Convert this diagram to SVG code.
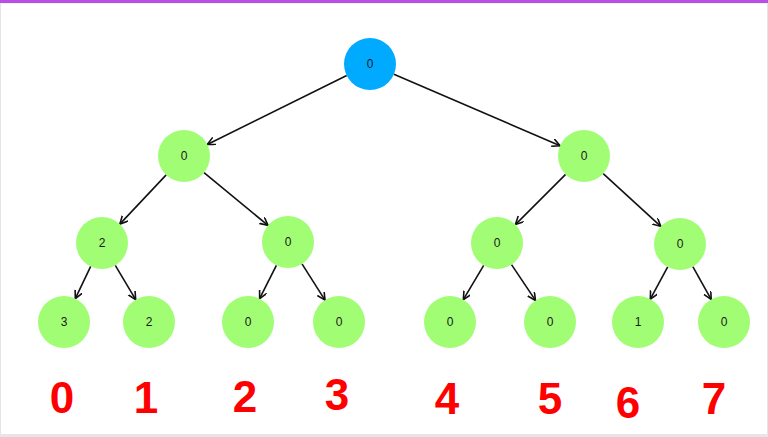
<svg xmlns="http://www.w3.org/2000/svg" width="768" height="437" viewBox="0 0 768 437">
<style>
.n circle{fill:#a1fd74}
.root circle{fill:#00aaff}
.n text{font-family:"Liberation Sans",Arial,sans-serif;font-size:12px;fill:#1a1a1a;text-anchor:middle;dominant-baseline:central}
.e line{stroke:#111;stroke-width:1.6;marker-end:url(#arr)}
.hand{font-family:"Liberation Sans",Arial,sans-serif;font-weight:bold;font-size:44px;fill:#ff0000;text-anchor:middle}
</style>
<defs>
<marker id="arr" markerUnits="userSpaceOnUse" markerWidth="10" markerHeight="10" refX="8" refY="4" orient="auto">
<path d="M0,0 L8,4 L0,8" fill="none" stroke="#111" stroke-width="1.6"/>
</marker>
</defs>
<rect x="0" y="0" width="768" height="437" fill="#fff"/>
<rect x="0.5" y="3" width="767" height="433" fill="none" stroke="#e4e4e8" stroke-width="1"/>
<rect x="0" y="434" width="768" height="3" fill="#e6e6ea"/>
<rect x="0" y="0" width="768" height="3" fill="#b64fe6"/>
<g id="edges" class="e">
<line x1="346.7" y1="75.5" x2="207.3" y2="144.5"/>
<line x1="393.9" y1="74.3" x2="560.1" y2="145.7"/>
<line x1="166.2" y1="174.9" x2="119.8" y2="224.1"/>
<line x1="204" y1="172.6" x2="268" y2="225.4"/>
<line x1="565.6" y1="174.4" x2="515.4" y2="224.6"/>
<line x1="603.2" y1="173.6" x2="660.8" y2="226.4"/>
<line x1="90.7" y1="266.4" x2="75.3" y2="298.6"/>
<line x1="115.3" y1="265.4" x2="135.7" y2="299.6"/>
<line x1="276.4" y1="265.3" x2="259.6" y2="298.7"/>
<line x1="302" y1="263.9" x2="325" y2="300.1"/>
<line x1="483.7" y1="265.4" x2="463.3" y2="299.6"/>
<line x1="511.5" y1="264.6" x2="535.5" y2="300.4"/>
<line x1="667.7" y1="266.9" x2="650.3" y2="299.1"/>
<line x1="692.8" y1="266.6" x2="711.2" y2="299.4"/>
</g>
<g id="n0" class="n root"><circle cx="370" cy="64" r="26"/><text x="370" y="64">0</text></g>
<g id="n1" class="n"><circle cx="184" cy="156" r="26"/><text x="184" y="156">0</text></g>
<g id="n2" class="n"><circle cx="584" cy="156" r="26"/><text x="584" y="156">0</text></g>
<g id="n3" class="n"><circle cx="102" cy="243" r="26"/><text x="102" y="243">2</text></g>
<g id="n4" class="n"><circle cx="288" cy="242" r="26"/><text x="288" y="242">0</text></g>
<g id="n5" class="n"><circle cx="497" cy="243" r="26"/><text x="497" y="243">0</text></g>
<g id="n6" class="n"><circle cx="680" cy="244" r="26"/><text x="680" y="244">0</text></g>
<g id="n7" class="n"><circle cx="64" cy="322" r="26"/><text x="64" y="322">3</text></g>
<g id="n8" class="n"><circle cx="149" cy="322" r="26"/><text x="149" y="322">2</text></g>
<g id="n9" class="n"><circle cx="248" cy="322" r="26"/><text x="248" y="322">0</text></g>
<g id="n10" class="n"><circle cx="339" cy="322" r="26"/><text x="339" y="322">0</text></g>
<g id="n11" class="n"><circle cx="450" cy="322" r="26"/><text x="450" y="322">0</text></g>
<g id="n12" class="n"><circle cx="550" cy="322" r="26"/><text x="550" y="322">0</text></g>
<g id="n13" class="n"><circle cx="638" cy="322" r="26"/><text x="638" y="322">1</text></g>
<g id="n14" class="n"><circle cx="724" cy="322" r="26"/><text x="724" y="322">0</text></g>
<g id="labels">
<text class="hand" x="62" y="413">0</text>
<text class="hand" x="146" y="413">1</text>
<text class="hand" x="245" y="412">2</text>
<text class="hand" x="337" y="410">3</text>
<text class="hand" x="447" y="414">4</text>
<text class="hand" x="550" y="414">5</text>
<text class="hand" x="628" y="418">6</text>
<text class="hand" x="714" y="414">7</text>
</g>
</svg>
